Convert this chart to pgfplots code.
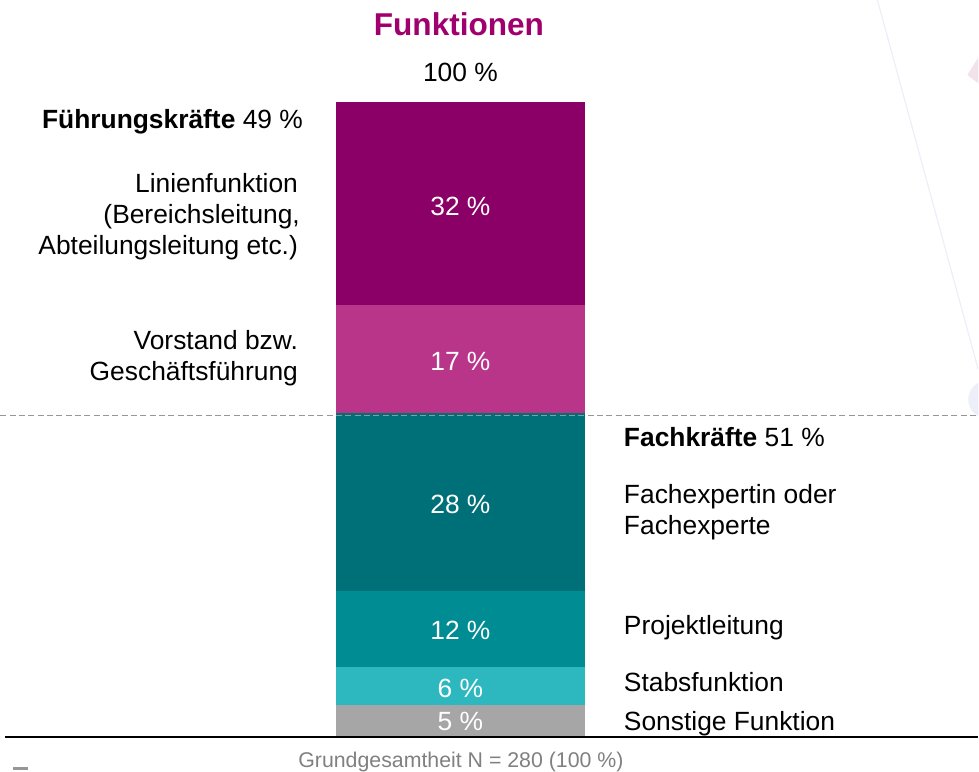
\documentclass[border=0pt]{standalone}
\usepackage{fontspec}
\setmainfont{Liberation Sans}
\usepackage{pgfplots}
\pgfplotsset{compat=1.18}
\definecolor{linie}{RGB}{139,0,102}
\definecolor{vorstand}{RGB}{184,53,138}
\definecolor{experte}{RGB}{0,112,120}
\definecolor{projekt}{RGB}{0,140,147}
\definecolor{stab}{RGB}{45,184,192}
\definecolor{sonst}{RGB}{166,166,166}
\definecolor{titel}{RGB}{160,0,110}

\begin{document}
\begin{tikzpicture}
% one stacked bar, y in percent; x in reference pixels
\begin{axis}[at={(0,0)}, anchor=south west, scale only axis,
  width=734.25pt, height=578.25pt,
  xmin=0, xmax=979, ymin=-5.19, ymax=116.04,
  hide axis, ybar stacked, bar width=249, clip=false]
\addplot[fill=sonst, draw=none] coordinates {(460.5,5)};
\addplot[fill=stab, draw=none] coordinates {(460.5,6)};
\addplot[fill=projekt, draw=none] coordinates {(460.5,12)};
\addplot[fill=experte, draw=none] coordinates {(460.5,28)};
\addplot[fill=vorstand, draw=none] coordinates {(460.5,17)};
\addplot[fill=linie, draw=none] coordinates {(460.5,32)};
\end{axis}
% annotations in reference pixels (origin top left)
\begin{scope}[x=0.75pt, y=-0.75pt, shift={(0,578.25pt)},
  every node/.style={inner sep=0, font=\fontsize{19.8}{23}\selectfont}]
\path (0,0) rectangle (979,771);
\begin{scope}
\clip (0,0) rectangle (979,771);
\draw[color={rgb,255:red,236;green,238;blue,248}, line width=0.9pt] (878,0) -- (979,370);
\fill[color={rgb,255:red,242;green,226;blue,236}] (968,75) -- (990,40) -- (990,92) -- cycle;
\fill[color={rgb,255:red,236;green,238;blue,248}] (988,400) circle (19);
\end{scope}
\draw[color={rgb,255:red,150;green,150;blue,150}, line width=0.75pt, dash pattern=on 4.5pt off 2.5pt] (0,416) -- (979,416);
\draw[black, line width=1.1pt] (5,738) -- (979,738);
\fill[color={rgb,255:red,150;green,150;blue,150}] (13,768) rectangle (28,771);
\node[anchor=base, font=\fontsize{23.7}{27}\selectfont\bfseries, text=titel] at (459,36) {Funktionen};
\node[anchor=base] at (460.5,82) {100 \%};
% left labels
\node[anchor=base east] at (303,129) {\textbf{Führungskräfte} 49 \%};
\node[anchor=base east] at (298,193) {Linienfunktion};
\node[anchor=base east] at (300,224) {(Bereichsleitung,};
\node[anchor=base east] at (298,255) {Abteilungsleitung etc.)};
\node[anchor=base east] at (298,350) {Vorstand bzw.};
\node[anchor=base east] at (298,381) {Geschäftsführung};
% right labels
\node[anchor=base west] at (624,447) {\textbf{Fachkräfte} 51 \%};
\node[anchor=base west] at (624,504) {Fachexpertin oder};
\node[anchor=base west] at (624,535) {Fachexperte};
\node[anchor=base west] at (624,635) {Projektleitung};
\node[anchor=base west] at (624,692) {Stabsfunktion};
\node[anchor=base west] at (624,731) {Sonstige Funktion};
% values inside the bar
\begin{scope}[every node/.append style={text=white, anchor=base}]
\node at (460.5,216) {32 \%};
\node at (460.5,371) {17 \%};
\node at (460.5,514) {28 \%};
\node at (460.5,640) {12 \%};
\node at (460.5,698) {6 \%};
\node at (460.5,731) {5 \%};
\end{scope}
\node[anchor=base, font=\fontsize{16}{20}\selectfont, text={rgb,255:red,128;green,128;blue,128}] at (461,768) {Grundgesamtheit N = 280 (100 \%)};
\end{scope}
\end{tikzpicture}
\end{document}
